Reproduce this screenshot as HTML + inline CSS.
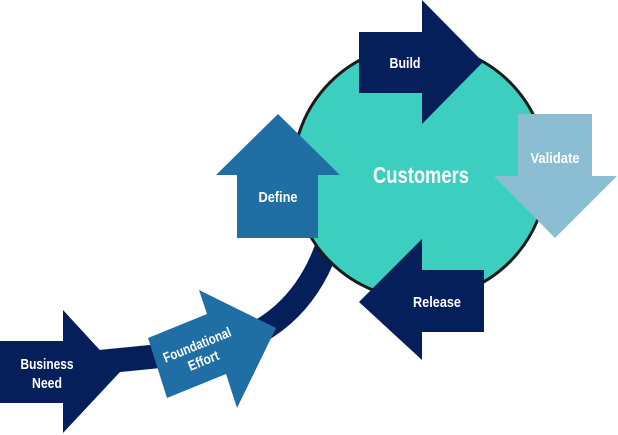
<!DOCTYPE html>
<html><head><meta charset="utf-8"><style>
html,body{margin:0;padding:0;background:#fff;}
svg{display:block;}
text{font-family:"Liberation Sans",sans-serif;font-weight:bold;fill:#fff;}
</style></head><body>
<svg width="618" height="435" viewBox="0 0 618 435" xmlns="http://www.w3.org/2000/svg">
<path d="M 330 238 Q 300 335 200 352 L 100 362" fill="none" stroke="#041f5a" stroke-width="24"/>
<circle cx="420" cy="172" r="127" fill="#3ccfbf" stroke="#1a1a1a" stroke-width="3"/>
<!-- Build -->
<polygon points="359,32 422,32 422,0 483,62 422,124 422,93 359,93" fill="#041f5a"/>
<text x="405" y="68" font-size="15" text-anchor="middle" textLength="31" lengthAdjust="spacingAndGlyphs">Build</text>
<!-- Validate -->
<polygon points="518,114 592,114 592,176 617,176 555,238 494,176 518,176" fill="#8bbdd3"/>
<text x="555" y="163" font-size="15" text-anchor="middle" textLength="49" lengthAdjust="spacingAndGlyphs">Validate</text>
<!-- Release -->
<polygon points="484,270 484,332 422,332 422,360 359,302 422,239 422,270" fill="#041f5a"/>
<text x="437" y="307" font-size="15" text-anchor="middle" textLength="48" lengthAdjust="spacingAndGlyphs">Release</text>
<!-- Define -->
<polygon points="237,238 318,238 318,175 340,175 278,114 216,175 237,175" fill="#1f6fa5"/>
<text x="278" y="202" font-size="15" text-anchor="middle" textLength="39" lengthAdjust="spacingAndGlyphs">Define</text>
<!-- Customers -->
<text x="421" y="183" font-size="23" text-anchor="middle" textLength="96" lengthAdjust="spacingAndGlyphs">Customers</text>
<!-- Business Need -->
<polygon points="0,341 63,341 63,310 120,372 63,433 63,403 0,403" fill="#041f5a"/>
<text x="47" y="369" font-size="14.5" text-anchor="middle" textLength="53" lengthAdjust="spacingAndGlyphs">Business</text>
<text x="47" y="388" font-size="14.5" text-anchor="middle" textLength="30" lengthAdjust="spacingAndGlyphs">Need</text>
<!-- Foundational Effort -->
<polygon points="148,338 207,314 199,290 276,328 237,408 226,374 167,398" fill="#1f6fa5"/>
<g transform="translate(200,352) rotate(-22)">
<text x="0" y="-3" font-size="14" text-anchor="middle" textLength="72" lengthAdjust="spacingAndGlyphs">Foundational</text>
<text x="0" y="14" font-size="14" text-anchor="middle" textLength="32" lengthAdjust="spacingAndGlyphs">Effort</text>
</g>
</svg>
</body></html>
